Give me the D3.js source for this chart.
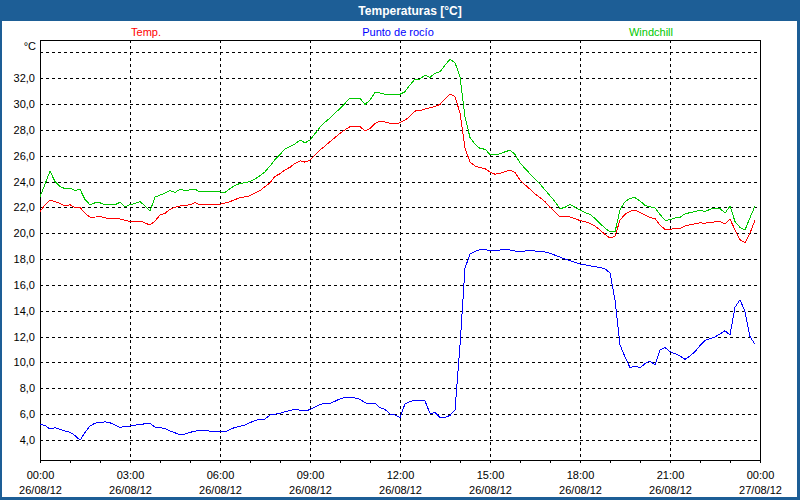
<!DOCTYPE html>
<html>
<head>
<meta charset="utf-8">
<script src="https://cdn.jsdelivr.net/npm/d3@7"></script>
<style>
  html, body { margin: 0; padding: 0; background: #ffffff; }
  svg { display: block; }
  text { font-family: "Liberation Sans", Arial, sans-serif; }
</style>
</head>
<body>
<svg id="chart" width="800" height="500"></svg>
<script>
// ---------- data ----------
const chartTitle = "Temperaturas [°C]";
const seriesNames = ["Temp.", "Punto de rocío", "Windchill"];
const seriesColors = ["#ff0000", "#0000ff", "#00c800"];
const startTime = "2012-08-26 00:00";
const endTime = "2012-08-27 00:00";
const stepMinutes = 10;
const yTickValues = [4, 6, 8, 10, 12, 14, 16, 18, 20, 22, 24, 26, 28, 30, 32];
const yGridValues = [4, 6, 8, 10, 12, 14, 16, 18, 20, 22, 24, 26, 28, 30, 32, 34];
const yUnit = "°C";

const temp = [
  21.66, 22.2, 22.55, 22.45, 22.3, 22.1, 22.2, 22.0, 22.0, 21.54, 21.25, 21.25,
  21.28, 21.2, 21.1, 21.1, 21.1, 21.0, 20.9, 20.92, 20.94, 20.8, 20.63, 20.94,
  21.4, 21.54, 21.85, 22.0, 22.1, 22.15, 22.2, 22.36, 22.2, 22.2, 22.2, 22.22,
  22.24, 22.34, 22.44, 22.6, 22.75, 22.82, 22.9, 23.1, 23.3, 23.6, 23.9, 24.4,
  24.6, 24.9, 25.1, 25.4, 25.6, 25.5, 25.66, 26.05, 26.44, 26.75, 27.08, 27.4,
  27.73, 28.0, 28.24, 28.24, 28.24, 27.93, 28.1, 28.5, 28.68, 28.6, 28.5, 28.45,
  28.55, 28.75, 29.05, 29.45, 29.5, 29.6, 29.72, 29.8, 29.97, 30.4, 30.77, 30.56,
  29.3, 26.6, 25.5, 25.2, 25.07, 25.0, 24.74, 24.56, 24.63, 24.76, 24.89, 24.7,
  24.12, 23.75, 23.4, 23.05, 22.75, 22.45, 22.0, 21.65, 21.25, 21.33, 21.25, 21.12,
  20.98, 20.9, 20.77, 20.55, 20.25, 19.9, 19.63, 19.75, 21.02, 21.46, 21.7, 21.78,
  21.62, 21.4, 21.2, 21.13, 20.63, 20.3, 20.3, 20.35, 20.38, 20.55, 20.66, 20.72,
  20.8, 20.77, 20.85, 20.87, 20.92, 20.7, 21.1, 20.25, 19.5, 19.27, 20.0, 21.02
];

const dewPoint = [
  5.2, 5.13, 4.85, 4.95, 4.82, 4.7, 4.6, 4.35, 3.98, 4.57, 5.08, 5.3,
  5.35, 5.4, 5.33, 5.15, 4.98, 5.03, 5.08, 5.14, 5.2, 5.25, 5.29, 5.0,
  4.95, 4.9, 4.69, 4.55, 4.42, 4.45, 4.59, 4.68, 4.77, 4.72, 4.69, 4.69,
  4.69, 4.62, 4.8, 4.98, 5.05, 5.16, 5.34, 5.5, 5.6, 5.62, 5.93, 6.0,
  6.06, 6.18, 6.28, 6.37, 6.3, 6.24, 6.35, 6.55, 6.75, 6.84, 6.84, 7.0,
  7.18, 7.3, 7.29, 7.25, 7.14, 6.88, 6.78, 6.84, 6.5, 6.37, 6.0, 5.93,
  5.72, 6.8, 6.98, 7.09, 7.06, 7.02, 6.06, 6.11, 5.75, 5.75, 5.9, 6.32,
  11.3, 17.3, 18.39, 18.6, 18.72, 18.75, 18.62, 18.66, 18.7, 18.75, 18.7, 18.62,
  18.6, 18.62, 18.65, 18.62, 18.6, 18.55, 18.45, 18.3, 18.15, 18.0, 17.88, 17.75,
  17.62, 17.55, 17.48, 17.41, 17.35, 17.23, 16.94, 14.8, 11.35, 10.44, 9.59, 9.72,
  9.59, 9.9, 10.1, 9.8, 10.96, 11.15, 10.83, 10.68, 10.5, 10.24, 10.5, 10.83,
  11.3, 11.7, 11.85, 11.97, 12.2, 12.45, 12.12, 14.27, 14.85, 13.93, 12.0, 11.4
];

const windchill = [
  22.8, 23.8, 24.8, 24.0, 23.6, 23.45, 23.5, 23.3, 23.4, 22.6, 22.2, 22.35,
  22.35, 22.2, 22.2, 22.2, 22.4, 22.05, 22.2, 22.3, 22.45, 22.1, 21.7, 22.8,
  22.95, 23.1, 23.3, 23.15, 23.4, 23.3, 23.35, 23.4, 23.2, 23.2, 23.2, 23.2,
  23.2, 23.15, 23.45, 23.7, 23.85, 23.9, 24.0, 24.2, 24.45, 24.75, 25.2, 25.7,
  26.1, 26.5, 26.7, 26.9, 27.2, 27.0, 27.2, 27.7, 28.2, 28.6, 28.9, 29.3,
  29.65, 30.05, 30.44, 30.44, 30.44, 29.97, 30.3, 30.9, 30.85, 30.75, 30.7, 30.7,
  30.75, 30.95, 31.47, 31.93, 31.93, 32.24, 32.06, 32.37, 32.5, 33.0, 33.46, 33.2,
  32.1, 29.0, 27.4, 26.9, 26.55, 26.5, 26.1, 26.07, 26.15, 26.3, 26.42, 26.1,
  25.45, 25.0, 24.6, 24.2, 23.8, 23.35, 22.9, 22.44, 21.9, 22.0, 22.24, 22.0,
  21.8, 21.6, 21.46, 21.15, 20.75, 20.4, 20.1, 20.1, 21.8, 22.44, 22.7, 22.75,
  22.5, 22.15, 22.05, 21.95, 21.45, 21.0, 21.03, 21.18, 21.23, 21.5, 21.59, 21.68,
  21.78, 21.67, 21.85, 21.95, 21.92, 21.55, 22.1, 20.9, 20.45, 20.25, 21.2, 22.1
];

// ---------- drawing ----------
const W = 800, H = 500;
const plot = { left: 40, right: 760, top: 40, bottom: 460 };
const frameBlue = "#1d5e96";

const parse = d3.timeParse("%Y-%m-%d %H:%M");
const t0 = parse(startTime), t1 = parse(endTime);
const timeAt = i => d3.timeMinute.offset(t0, i * stepMinutes);

const x = d3.scaleTime().domain([t0, t1]).range([plot.left, plot.right]);
const y = d3.scaleLinear().domain([2.45, 34.95]).range([plot.bottom, plot.top]);

const svg = d3.select("#chart");

// frame + title bar
svg.append("rect").attr("x", 0).attr("y", 0).attr("width", W).attr("height", H).attr("fill", frameBlue);
svg.append("rect").attr("x", 2).attr("y", 21).attr("width", 795).attr("height", 476).attr("fill", "#ffffff");
svg.append("text").attr("x", 410).attr("y", 15).attr("text-anchor", "middle")
  .attr("fill", "#ffffff").attr("font-weight", "bold").attr("font-size", 12).text(chartTitle);

// legend
const legendX = [146, 398, 651];
seriesNames.forEach((n, i) => {
  svg.append("text").attr("x", legendX[i]).attr("y", 36).attr("text-anchor", "middle")
    .attr("font-size", 11).attr("fill", seriesColors[i]).text(n);
});

// horizontal grid
svg.append("g").selectAll("line").data(yGridValues).join("line")
  .attr("x1", plot.left).attr("x2", plot.right)
  .attr("y1", d => Math.round(y(d)) + 0.5).attr("y2", d => Math.round(y(d)) + 0.5)
  .attr("stroke", "#000").attr("stroke-dasharray", "3,3").attr("shape-rendering", "crispEdges");

// vertical grid (every 3 h)
const majorTimes = d3.timeHour.every(3).range(d3.timeHour.offset(t0, 3), t1);
svg.append("g").selectAll("line").data(majorTimes).join("line")
  .attr("x1", d => Math.round(x(d)) + 0.5).attr("x2", d => Math.round(x(d)) + 0.5)
  .attr("y1", plot.top).attr("y2", plot.bottom)
  .attr("stroke", "#000").attr("stroke-dasharray", "3,3").attr("shape-rendering", "crispEdges");

// y axis labels
const yAxis = d3.axisLeft(y).tickValues(yTickValues).tickSize(0).tickPadding(5)
  .tickFormat(d => d3.format(".1f")(d).replace(".", ","));
const gy = svg.append("g").attr("transform", `translate(${plot.left},0)`).call(yAxis);
gy.select(".domain").remove();
gy.selectAll("text").attr("font-size", 11).attr("fill", "#000")
  .attr("font-family", "'Liberation Sans', Arial, sans-serif");
svg.append("text").attr("x", 36).attr("y", 50).attr("text-anchor", "end")
  .attr("font-size", 11).attr("fill", "#000").text(yUnit);

// x axis: hourly ticks, labels every 3 h
const xMinor = d3.axisBottom(x).ticks(d3.timeHour.every(1)).tickSize(3).tickFormat("");
const gxm = svg.append("g").attr("transform", `translate(0,${plot.bottom})`).call(xMinor);
gxm.select(".domain").remove();
gxm.selectAll("line").attr("stroke", "#000").attr("shape-rendering", "crispEdges");

const fmtTime = d3.timeFormat("%H:%M"), fmtDate = d3.timeFormat("%d/%m/%y");
const xMajor = d3.axisBottom(x).ticks(d3.timeHour.every(3)).tickSize(0).tickFormat("");
const gx = svg.append("g").attr("transform", `translate(0,${plot.bottom})`).call(xMajor);
gx.select(".domain").remove();
gx.selectAll(".tick").each(function(d) {
  const g = d3.select(this);
  g.append("text").attr("y", 19).attr("text-anchor", "middle").attr("font-size", 11)
    .attr("fill", "#000").attr("font-family", "'Liberation Sans', Arial, sans-serif").text(fmtTime(d));
  g.append("text").attr("y", 34).attr("text-anchor", "middle").attr("font-size", 11)
    .attr("fill", "#000").attr("font-family", "'Liberation Sans', Arial, sans-serif").text(fmtDate(d));
});

// plot frame
svg.append("rect").attr("x", plot.left + 0.5).attr("y", plot.top + 0.5)
  .attr("width", plot.right - plot.left).attr("height", plot.bottom - plot.top)
  .attr("fill", "none").attr("stroke", "#000").attr("shape-rendering", "crispEdges");

// series lines
const line = d3.line().x((d, i) => x(timeAt(i))).y(d => y(d));
[temp, dewPoint, windchill].forEach((s, i) => {
  svg.append("path").datum(s).attr("d", line).attr("fill", "none")
    .attr("stroke", seriesColors[i]).attr("stroke-width", 1).attr("shape-rendering", "crispEdges");
});
</script>
</body>
</html>
